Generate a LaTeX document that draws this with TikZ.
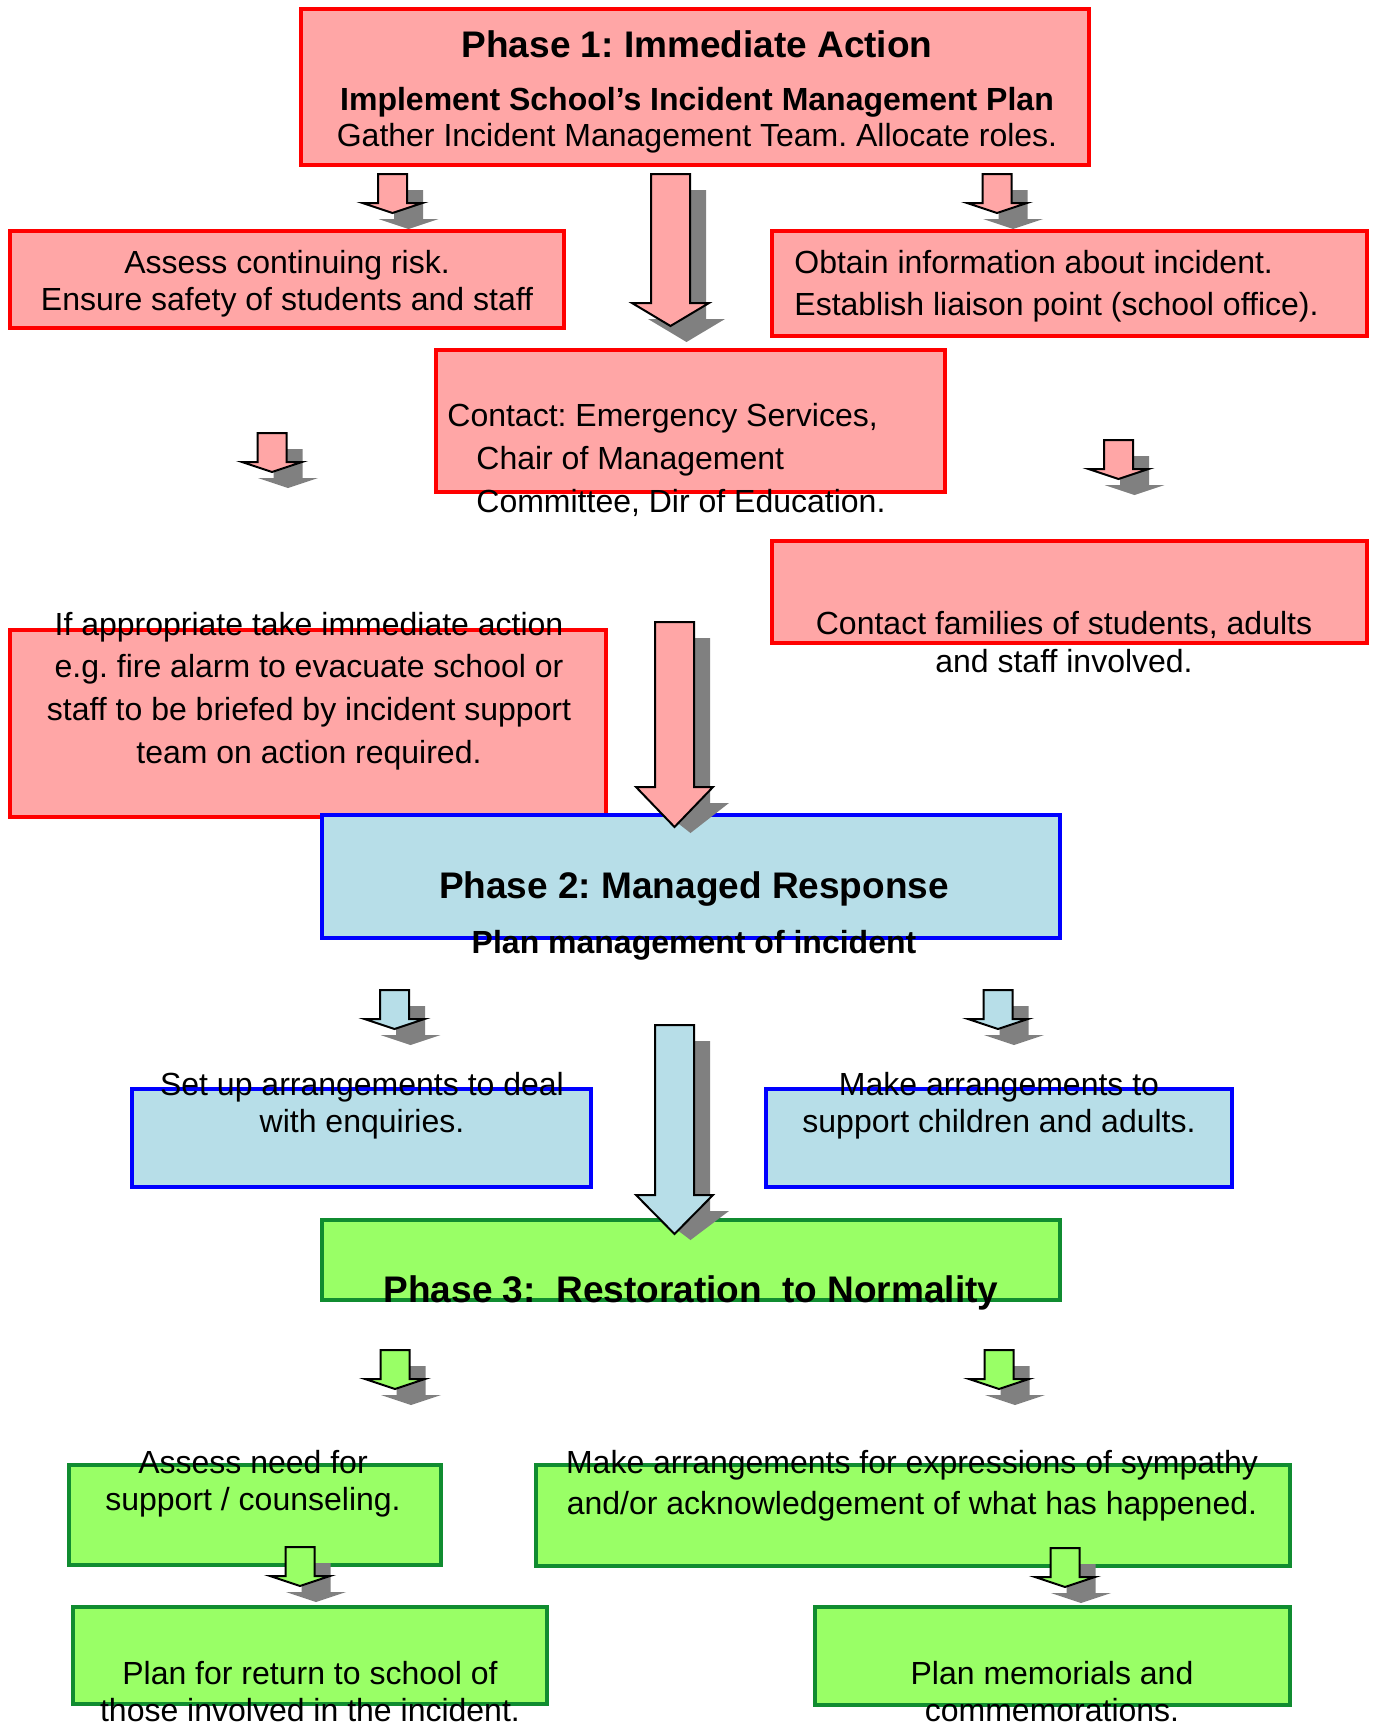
\documentclass[tikz,border=0pt]{standalone}
\usepackage{fontspec}
\setmainfont{Liberation Sans}
\frenchspacing
\usetikzlibrary{fit}
\definecolor{redfill}{RGB}{255,166,166}
\definecolor{redline}{RGB}{255,0,0}
\definecolor{bluefill}{RGB}{183,222,232}
\definecolor{blueline}{RGB}{0,0,255}
\definecolor{greenfill}{RGB}{153,255,102}
\definecolor{greenline}{RGB}{16,140,48}
\definecolor{shadowgray}{RGB}{128,128,128}
% block arrow: #1 fill, #2 cx, #3 top, #4 head start, #5 tip, #6 body half width, #7 head half width, #8 shadow tip
\newcommand\blkarrow[8]{%
  \fill[shadowgray] ({#2-#6+16},{#3+16}) -- ({#2+#6+16},{#3+16}) -- ({#2+#6+16},{#4+16}) -- ({#2+#7+16},{#4+16}) -- ({#2+16},{#8}) -- ({#2-#7+16},{#4+16}) -- ({#2-#6+16},{#4+16}) -- cycle;
  \filldraw[fill=#1, draw=black, line width=1pt, line join=miter] ({#2-#6},{#3}) -- ({#2+#6},{#3}) -- ({#2+#6},{#4}) -- ({#2+#7},{#4}) -- ({#2},{#5}) -- ({#2-#7},{#4}) -- ({#2-#6},{#4}) -- cycle;
}
\newcommand\smallarrow[3]{\blkarrow{#1}{#2}{#3}{#3+29}{#3+39}{14.5}{30}{#3+55}}
\tikzset{
  box/.style={draw, line width=2pt, inner sep=0pt, outer sep=0pt},
  redbox/.style={box, draw=redline, fill=redfill},
  bluebox/.style={box, draw=blueline, fill=bluefill},
  greenbox/.style={box, draw=greenline, fill=greenfill},
  txt/.style={inner sep=0pt, align=center, font=\fontsize{16}{18.5}\selectfont},
  ttl/.style={inner sep=0pt, font=\fontsize{18.5}{22}\selectfont\bfseries},
  sub/.style={inner sep=0pt, font=\fontsize{16}{18.5}\selectfont\bfseries}
}
\begin{document}
\begin{tikzpicture}[x=0.5pt,y=-0.5pt]
\useasboundingbox (0,0) rectangle (1374,1724);
% boxes
\node[redbox, fit={(301,9) (1089,165)}] (b1) {};
\node[redbox, fit={(10,231) (564,328)}] (bAssess) {};
\node[redbox, fit={(772,231) (1367,336)}] (bObtain) {};
\node[redbox, fit={(436,350) (945,492)}] (bContact) {};
\node[redbox, fit={(772,541) (1367,643)}] (bFamilies) {};
\node[redbox, fit={(10,630) (606,817)}] (bIf) {};
\node[bluebox, fit={(322,815) (1060,938)}] (b2) {};
\node[bluebox, fit={(132,1089) (591,1187)}] (bSetup) {};
\node[bluebox, fit={(766,1089) (1232,1187)}] (bMake) {};
\node[greenbox, fit={(322,1220) (1060,1300)}] (b3) {};
\node[greenbox, fit={(69,1465) (441,1565)}] (bNeed) {};
\node[greenbox, fit={(536,1465) (1290,1566)}] (bExpr) {};
\node[greenbox, fit={(73,1607) (547,1704)}] (bReturn) {};
\node[greenbox, fit={(815,1607) (1290,1705)}] (bMemorial) {};
% arrows
\smallarrow{redfill}{392.5}{174}
\smallarrow{redfill}{997}{174}
\blkarrow{redfill}{670.5}{174}{303}{326}{19.5}{38.5}{342}
\smallarrow{redfill}{272}{433}
\smallarrow{redfill}{1118.5}{440}
\blkarrow{redfill}{674.5}{622}{787}{827}{19.5}{38.5}{833}
\smallarrow{bluefill}{394.5}{990}
\smallarrow{bluefill}{998}{990}
\blkarrow{bluefill}{674.5}{1025}{1195}{1234}{19.5}{38.5}{1240}
\smallarrow{greenfill}{395}{1350}
\smallarrow{greenfill}{999}{1350}
\smallarrow{greenfill}{300}{1547}
\smallarrow{greenfill}{1065}{1548}
% texts
\node[ttl] (t1title) at (697,44) {Phase 1: Immediate Action};
\node[txt, font=\fontsize{16}{18}\selectfont] (t1sub) at (697,120) {{\bfseries Implement School’s Incident Management Plan}\\Gather Incident Management Team. Allocate roles.};
\node[txt] (tAssess) at (287,283.5) {Assess continuing risk.\\Ensure safety of students and staff};
\node[txt, align=left, anchor=west, font=\fontsize{16}{21}\selectfont] (tObtain) at (794,286) {Obtain information about incident.\\Establish liaison point (school office).};
\node[txt, align=left, anchor=west, font=\fontsize{16}{21.5}\selectfont] (tContact) at (447,460) {Contact: Emergency Services,\\\hspace*{14.5pt}Chair of Management\\\hspace*{14.5pt}Committee, Dir of Education.};
\node[txt, font=\fontsize{16}{19}\selectfont] (tFamilies) at (1064,642) {Contact families of students, adults\\and staff involved.};
\node[txt, font=\fontsize{16}{21.3}\selectfont] (tIf) at (309,691) {If appropriate take immediate action\\e.g. fire alarm to evacuate school or\\staff to be briefed by incident support\\team on action required.};
\node[ttl] (t2title) at (694,889) {Phase 2: Managed Response};
\node[sub] (t2sub) at (694,945) {Plan management of incident};
\node[txt] (tSetup) at (362,1105.5) {Set up arrangements to deal\\with enquiries.};
\node[txt] (tMake) at (999,1105.5) {Make arrangements to\\support children and adults.};
\node[ttl] (t3title) at (691,1293) {Phase 3:\ \ Restoration\ \ to Normality};
\node[txt] (tNeed) at (253,1483.5) {Assess need for\\support / counseling.};
\node[txt, font=\fontsize{16}{20.5}\selectfont] (tExpr) at (912,1485.5) {Make arrangements for expressions of sympathy\\and/or acknowledgement of what has happened.};
\node[txt] (tReturn) at (310,1691.5) {Plan for return to school of\\those involved in the incident.};
\node[txt] (tMemorial) at (1052,1691.5) {Plan memorials and\\commemorations.};
\end{tikzpicture}
\end{document}
